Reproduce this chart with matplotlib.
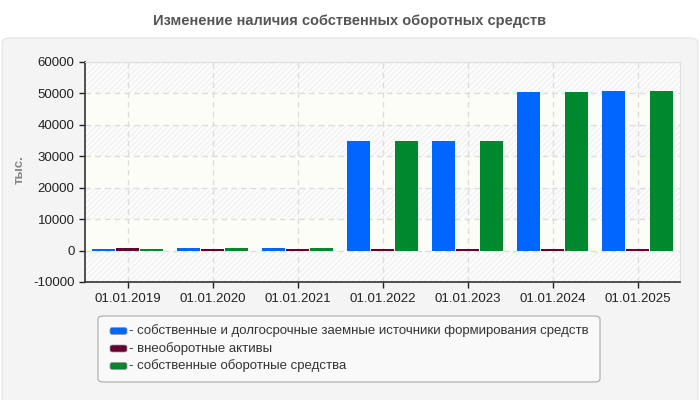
import matplotlib.pyplot as plt
import numpy as np
from matplotlib.patches import FancyBboxPatch

plt.rcParams['font.family'] = ['Liberation Sans', 'DejaVu Sans']
plt.rcParams['hatch.linewidth'] = 0.6

dates = ['01.01.2019', '01.01.2020', '01.01.2021', '01.01.2022',
         '01.01.2023', '01.01.2024', '01.01.2025']
own_and_long_term = [600, 900, 900, 35000, 35000, 50500, 50900]
non_current_assets = [900, 600, 600, 600, 600, 600, 600]
own_working_capital = [600, 900, 900, 35000, 35000, 50500, 50900]

series_names = ['собственные и долгосрочные заемные источники формирования средств',
                'внеоборотные активы',
                'собственные оборотные средства']
colors = ['#0066ff', '#660033', '#00882e']
yticks = [-10000, 0, 10000, 20000, 30000, 40000, 50000, 60000]

fig = plt.figure(figsize=(7, 4), dpi=100)
fig.patch.set_facecolor('white')

# rounded grey panel behind the chart
panel = FancyBboxPatch((0.003, -0.05), 0.994, 0.955, boxstyle='round,pad=0,rounding_size=0.012',
                       transform=fig.transFigure, facecolor='#f4f4f4', edgecolor='#e4e4e4',
                       linewidth=0.8, zorder=-10)
fig.patches.append(panel)

fig.text(0.5, 0.947, 'Изменение наличия собственных оборотных средств',
         ha='center', va='center', fontsize=10.5, fontweight='bold', color='#555555')

ax = fig.add_axes([85 / 700, 1 - 282 / 400, 595 / 700, 220 / 400])
ax.set_facecolor('#fdfdf8')

# alternating hatched bands
for lo in range(-10000, 60000, 20000):
    ax.axhspan(lo, lo + 10000, facecolor='#fcfcfc', edgecolor='#ececec',
               hatch='//////', linewidth=0, zorder=0)

x = np.arange(len(dates)) + 0.5
w = 0.272
off = 0.283
ax.bar(x - off, own_and_long_term, w, color=colors[0], zorder=3)
ax.bar(x, non_current_assets, w, color=colors[1], zorder=3)
ax.bar(x + off, own_working_capital, w, color=colors[2], zorder=3)

ax.set_xlim(0, len(dates))
ax.set_ylim(-10000, 60000)
ax.set_yticks(yticks)
ax.set_yticklabels([str(v) for v in yticks])
ax.set_xticks(x)
ax.set_xticklabels(dates)
ax.tick_params(axis='both', labelsize=9.5, colors='#222222', length=4, width=1)
ax.tick_params(axis='x', pad=4)
ax.grid(True, color='#dddddd', linestyle=(0, (4, 3)), linewidth=1, zorder=1)
ax.set_axisbelow(True)

for s in ['top', 'right']:
    ax.spines[s].set_color('#e0e0e0')
for s in ['left', 'bottom']:
    ax.spines[s].set_color('#333333')
    ax.spines[s].set_linewidth(1.2)

fig.text(20 / 700, 1 - 170 / 400, 'тыс.', rotation=90, ha='center', va='center',
         fontsize=9.5, fontweight='bold', color='#888888')

# legend box
leg_box = FancyBboxPatch((98 / 700, 1 - 382 / 400), 502 / 700, 66 / 400,
                         boxstyle='round,pad=0,rounding_size=0.008', transform=fig.transFigure,
                         facecolor='#f9f9f9', edgecolor='#aaaaaa', linewidth=0.8, zorder=1)
fig.patches.append(leg_box)
for i, (name, c) in enumerate(zip(series_names, colors)):
    yc = 1 - (331 + i * 17.5) / 400
    sw = FancyBboxPatch((110 / 700, yc - 3.5 / 400), 17 / 700, 7 / 400,
                        boxstyle='round,pad=0,rounding_size=0.004', transform=fig.transFigure,
                        facecolor=c, edgecolor='#999999', linewidth=0.5, zorder=2)
    fig.patches.append(sw)
    fig.text(129 / 700, yc, '- ' + name, ha='left', va='center', fontsize=9.5,
             color='#333333', zorder=3)

fig.savefig('out.png', dpi=100, facecolor=fig.get_facecolor())
